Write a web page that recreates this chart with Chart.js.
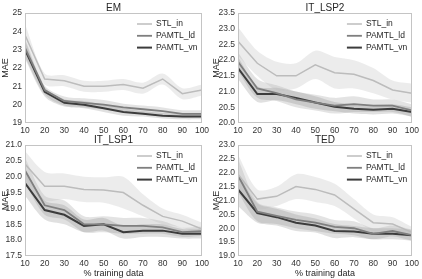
<!DOCTYPE html>
<html>
<head>
<meta charset="utf-8">
<script src="https://cdn.jsdelivr.net/npm/chart.js@4.4.1/dist/chart.umd.min.js"></script>
<style>
	html, body { margin: 0; padding: 0; background: #ffffff; }
	#wrap { position: relative; width: 422px; height: 279px; }
	#wrap canvas { position: absolute; left: 0; top: 0; }
</style>
</head>
<body>
<div id="wrap">
	<canvas id="emChart" width="422" height="279"></canvas>
	<canvas id="lsp2Chart" width="422" height="279"></canvas>
	<canvas id="lsp1Chart" width="422" height="279"></canvas>
	<canvas id="tedChart" width="422" height="279"></canvas>
</div>
<script>
// categories (% training data)
var xLabels = [10, 20, 30, 40, 50, 60, 70, 80, 90, 100];
var seriesNames = ['STL_in', 'PAMTL_ld', 'PAMTL_vn'];

// EM
var emStl   = [23.8, 21.4, 21.3, 21.0, 21.0, 21.1, 20.9, 21.4, 20.6, 20.8];
var emLd    = [23.1, 20.8, 20.2, 20.1, 20.0, 19.85, 19.75, 19.65, 19.5, 19.5];
var emVn    = [23.0, 20.7, 20.1, 20.0, 19.8, 19.6, 19.5, 19.4, 19.35, 19.35];
var emStlErr = [0.6, 0.3, 0.3, 0.3, 0.3, 0.3, 0.3, 0.3, 0.3, 0.3];
var emLdErr  = [0.5, 0.25, 0.25, 0.25, 0.25, 0.2, 0.2, 0.2, 0.2, 0.2];
var emVnErr  = [0.5, 0.25, 0.2, 0.2, 0.2, 0.2, 0.15, 0.15, 0.15, 0.15];
var emTicks = [19, 20, 21, 22, 23, 24, 25];

// IT_LSP2
var lsp2Stl   = [22.6, 21.9, 21.5, 21.5, 21.85, 21.6, 21.55, 21.35, 21.05, 20.95];
var lsp2Ld    = [21.95, 21.1, 20.95, 20.75, 20.65, 20.55, 20.6, 20.55, 20.55, 20.4];
var lsp2Vn    = [21.75, 20.92, 20.92, 20.8, 20.65, 20.52, 20.45, 20.42, 20.45, 20.35];
var lsp2StlErr = [0.45, 0.4, 0.45, 0.4, 0.45, 0.5, 0.45, 0.4, 0.3, 0.3];
var lsp2LdErr  = [0.3, 0.3, 0.25, 0.25, 0.25, 0.25, 0.25, 0.2, 0.2, 0.2];
var lsp2VnErr  = [0.35, 0.25, 0.2, 0.2, 0.2, 0.15, 0.15, 0.15, 0.15, 0.15];
var lsp2Ticks = [20.0, 20.5, 21.0, 21.5, 22.0, 22.5, 23.0, 23.5];

// IT_LSP1
var lsp1Stl   = [20.4, 19.7, 19.7, 19.6, 19.58, 19.5, 19.1, 18.75, 18.6, 18.35];
var lsp1Ld    = [20.2, 19.1, 18.95, 18.5, 18.5, 18.45, 18.45, 18.4, 18.25, 18.28];
var lsp1Vn    = [19.8, 18.95, 18.8, 18.45, 18.5, 18.25, 18.3, 18.3, 18.2, 18.2];
var lsp1StlErr = [0.4, 0.45, 0.4, 0.4, 0.4, 0.5, 0.35, 0.25, 0.2, 0.2];
var lsp1LdErr  = [0.4, 0.3, 0.3, 0.25, 0.25, 0.25, 0.25, 0.2, 0.15, 0.15];
var lsp1VnErr  = [0.4, 0.3, 0.3, 0.2, 0.2, 0.2, 0.2, 0.2, 0.15, 0.15];
var lsp1Ticks = [17.5, 18.0, 18.5, 19.0, 19.5, 20.0, 20.5, 21.0];

// TED
var tedStl   = [21.95, 21.05, 21.15, 21.5, 21.4, 21.2, 20.7, 20.2, 20.15, 19.85];
var tedLd    = [21.9, 20.6, 20.45, 20.3, 20.2, 20.05, 20.0, 19.8, 19.9, 19.75];
var tedVn    = [21.4, 20.55, 20.4, 20.2, 20.1, 19.9, 19.88, 19.8, 19.8, 19.75];
var tedStlErr = [0.7, 0.35, 0.35, 0.45, 0.45, 0.4, 0.35, 0.3, 0.25, 0.2];
var tedLdErr  = [0.6, 0.35, 0.3, 0.3, 0.3, 0.25, 0.25, 0.2, 0.2, 0.2];
var tedVnErr  = [0.6, 0.35, 0.3, 0.3, 0.25, 0.25, 0.2, 0.2, 0.2, 0.2];
var tedTicks = [19.0, 19.5, 20.0, 20.5, 21.0, 21.5, 22.0, 22.5, 23.0];

var lineColors = ['#bcbcbc', '#7f7f7f', '#3c3c3c'];
var bandColors = ['rgba(188,188,188,0.28)', 'rgba(127,127,127,0.22)', 'rgba(60,60,60,0.16)'];
var lineWidths = [1.5, 1.8, 2];
var FONT = "'Liberation Sans', Arial, sans-serif";

function pts(vals, errs, sign) {
	return xLabels.map(function(x, i) {
		return { x: x, y: vals[i] + sign * (errs ? errs[i] : 0) };
	});
}

// frame, title and legend drawn inside the chart area
var framePlugin = {
	id: 'frame',
	afterDraw: function(chart) {
		var a = chart.chartArea, ctx = chart.ctx;
		var opts = chart.options.plugins.frame;
		ctx.save();
		ctx.strokeStyle = '#c4c4c4';
		ctx.lineWidth = 1;
		ctx.strokeRect(Math.round(a.left) + 0.5, Math.round(a.top) + 0.5,
			Math.round(a.right - a.left) - 1, Math.round(a.bottom - a.top) - 1);
		// title
		ctx.fillStyle = '#262626';
		ctx.font = '10px ' + FONT;
		ctx.textAlign = 'center';
		ctx.textBaseline = 'alphabetic';
		ctx.fillText(opts.title, (a.left + a.right) / 2, a.top - 2);
		// legend
		ctx.font = '8.5px ' + FONT;
		ctx.textAlign = 'left';
		ctx.textBaseline = 'middle';
		for (var i = 0; i < seriesNames.length; i++) {
			var y = a.top + 11 + i * 11.8;
			ctx.strokeStyle = lineColors[i];
			ctx.lineWidth = lineWidths[i];
			ctx.beginPath();
			ctx.moveTo(a.right - 65, y);
			ctx.lineTo(a.right - 50, y);
			ctx.stroke();
			ctx.fillStyle = '#262626';
			ctx.fillText(seriesNames[i], a.right - 46, y);
		}
		ctx.restore();
	}
};

function makeChart(canvasId, title, series, errs, yTicks, area, yAxisW, xAxisH, showXTitle) {
	var datasets = [];
	// main lines
	for (var s = 0; s < 3; s++) {
		datasets.push({
			data: pts(series[s], null, 0),
			borderColor: lineColors[s],
			borderWidth: lineWidths[s],
			pointRadius: 0,
			fill: false,
			tension: 0,
			order: 0
		});
	}
	// bands: upper then lower filled to previous
	for (var s = 0; s < 3; s++) {
		datasets.push({
			data: pts(series[s], errs[s], 1),
			borderWidth: 0,
			borderColor: 'rgba(0,0,0,0)',
			pointRadius: 0,
			fill: false,
			tension: 0.3,
			order: 1
		});
		datasets.push({
			data: pts(series[s], errs[s], -1),
			borderWidth: 0,
			borderColor: 'rgba(0,0,0,0)',
			backgroundColor: bandColors[s],
			pointRadius: 0,
			fill: '-1',
			tension: 0.3,
			order: 1
		});
	}
	return new Chart(document.getElementById(canvasId), {
		type: 'line',
		data: { datasets: datasets },
		plugins: [framePlugin],
		options: {
			responsive: false,
			animation: false,
			events: [],
			layout: {
				padding: {
					left: area[0] - yAxisW,
					top: area[1],
					right: 422 - area[2],
					bottom: 279 - area[3] - xAxisH
				}
			},
			plugins: {
				legend: { display: false },
				tooltip: { enabled: false },
				frame: { title: title }
			},
			scales: {
				x: {
					type: 'linear',
					min: xLabels[0],
					max: xLabels[xLabels.length - 1],
					grid: { display: false, drawTicks: false },
					border: { display: false },
					afterBuildTicks: function(scale) {
						scale.ticks = xLabels.map(function(v) { return { value: v }; });
					},
					afterFit: function(scale) { scale.height = xAxisH; },
					ticks: {
						padding: 3,
						color: '#333333',
						font: { family: FONT, size: 8.5 },
						maxRotation: 0,
						callback: function(v) { return String(v); }
					},
					title: {
						display: showXTitle,
						text: '% training data',
						color: '#262626',
						font: { family: FONT, size: 9 },
						padding: { top: 0, bottom: 0 }
					}
				},
				y: {
					type: 'linear',
					min: yTicks[0],
					max: yTicks[yTicks.length - 1],
					grid: { display: false, drawTicks: false },
					border: { display: false },
					afterBuildTicks: function(scale) {
						scale.ticks = yTicks.map(function(v) { return { value: v }; });
					},
					afterFit: function(scale) { scale.width = yAxisW; },
					ticks: {
						padding: 3,
						color: '#333333',
						font: { family: FONT, size: 8.5 },
						callback: function(v) {
							return (yTicks[1] - yTicks[0]) < 1 ? v.toFixed(1) : String(v);
						}
					},
					title: {
						display: true,
						text: 'MAE',
						color: '#262626',
						font: { family: FONT, size: 9 },
						padding: { top: 0, bottom: 0 }
					}
				}
			}
		}
	});
}

makeChart('emChart', 'EM', [emStl, emLd, emVn], [emStlErr, emLdErr, emVnErr],
	emTicks, [25, 13, 202, 123], 25, 16, false);
makeChart('lsp2Chart', 'IT_LSP2', [lsp2Stl, lsp2Ld, lsp2Vn], [lsp2StlErr, lsp2LdErr, lsp2VnErr],
	lsp2Ticks, [238, 13, 414, 123], 27, 16, false);
makeChart('lsp1Chart', 'IT_LSP1', [lsp1Stl, lsp1Ld, lsp1Vn], [lsp1StlErr, lsp1LdErr, lsp1VnErr],
	lsp1Ticks, [25, 145, 202, 256], 25, 23, true);
makeChart('tedChart', 'TED', [tedStl, tedLd, tedVn], [tedStlErr, tedLdErr, tedVnErr],
	tedTicks, [238, 145, 414, 256], 27, 23, true);
</script>
</body>
</html>
